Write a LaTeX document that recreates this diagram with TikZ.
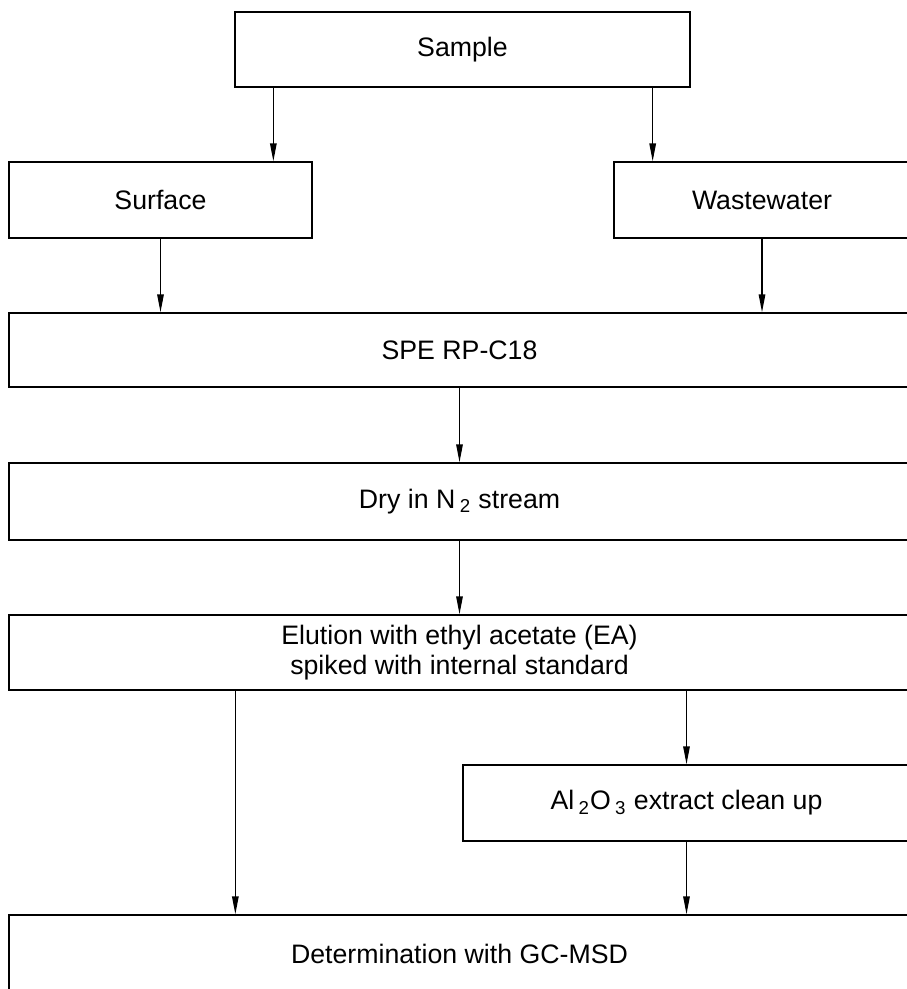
\documentclass[tikz,border=0pt]{standalone}
\usepackage{fontspec}
\setmainfont{Liberation Sans}
\usepackage{tikz}
\usetikzlibrary{arrows.meta,calc,positioning}

\begin{document}
\begin{tikzpicture}[x=0.02cm,y=-0.02cm,
  stage/.style={draw,line width=0.8pt,inner sep=0pt,align=center,
    font=\fontsize{15.2}{17}\selectfont},
  arr/.style={line width=0.8pt,-{Triangle[length=3.6mm,width=1.3mm]}}]
  \useasboundingbox (0,0) rectangle (906,989);
  % boxes
  \node[stage,minimum width=9.1cm,minimum height=1.5cm] (sample) at (462.5,49.5) {Sample};
  \node[stage,minimum width=6.06cm,minimum height=1.52cm] (surface) at (160.5,200) {Surface};
  \node[stage,minimum width=5.92cm,minimum height=1.52cm] (waste) at (762,200) {Wastewater};
  \node[stage,minimum width=18.02cm,minimum height=1.48cm] (spe) at (459.5,350) {SPE RP-C18};
  \node[stage,minimum width=18.02cm,minimum height=1.54cm] (dry) at (459.5,501.5) {Dry in N\,\textsubscript{2} stream};
  \node[stage,minimum width=18.02cm,minimum height=1.5cm] (elu) at (459.5,652.5)
    {Elution with ethyl acetate (EA)\\spiked with internal standard};
  \node[stage,minimum width=8.94cm,minimum height=1.52cm] (alo) at (686.5,803)
    {Al\,\textsubscript{2}O\,\textsubscript{3} extract clean up};
  \node[stage,minimum width=18.02cm,minimum height=1.56cm] (det) at (459.5,954) {Determination with GC-MSD};
  % arrows
  \draw[arr] ([xshift=0.78cm]sample.south west) coordinate (s1) -- (s1 |- surface.north);
  \draw[arr] ([xshift=-0.76cm]sample.south east) coordinate (s2) -- (s2 |- waste.north);
  \draw[arr] (surface.south) -- (surface.south |- spe.north);
  \draw[arr] (waste.south) -- (waste.south |- spe.north);
  \draw[arr] (spe.south) -- (dry.north);
  \draw[arr] (dry.south) -- (elu.north);
  \draw[arr] ([xshift=4.54cm]elu.south west) coordinate (e1) -- (e1 |- det.north);
  \draw[arr] (alo.north |- elu.south) -- (alo.north);
  \draw[arr] (alo.south) -- (alo.south |- det.north);
\end{tikzpicture}
\end{document}
